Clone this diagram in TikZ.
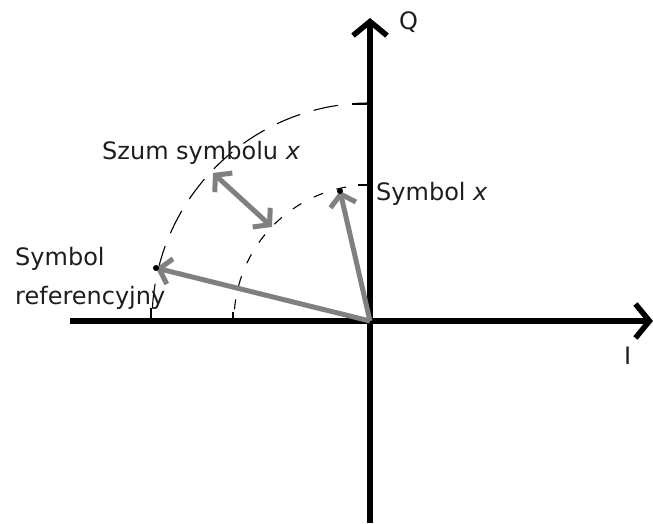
\documentclass[tikz,border=0pt]{standalone}
\usepackage{fontspec}
\setmainfont{DejaVu Sans}
\usetikzlibrary{arrows.meta}
\definecolor{txt}{HTML}{1E1E1E}
\definecolor{vec}{HTML}{808080}
\begin{document}
\begin{tikzpicture}[x=1pt,y=1pt,
  axis/.style={line width=5.5pt, -{Straight Barb[sharp,length=14pt,width=34pt]}},
  vector/.style={draw=vec, line width=5pt, -{Straight Barb[sharp,length=11pt,width=26pt]}},
  dbl/.style={draw=vec, line width=5pt, {Straight Barb[sharp,length=11pt,width=26pt]}-{Straight Barb[sharp,length=11pt,width=26pt]}},
  circ/.style={line width=1.1pt},
  tickmark/.style={line width=1.1pt},
  lbl/.style={text=txt, font=\fontsize{24}{29}\selectfont, inner sep=0pt, anchor=base west},
  symdot/.style={circle, fill=black, inner sep=0pt, minimum size=6pt}]
\useasboundingbox (0,0) rectangle (653,523);
\coordinate (O) at (370,202);
\coordinate (ybot) at (370,0);
\coordinate (ytop) at (370,505);
\coordinate (xl) at (70,202);
\coordinate (xr) at (653,202);
% dashed circles
\draw[circ, dash pattern=on 25pt off 14pt, dash phase=7pt] (370,420) arc[start angle=90, end angle=180, radius=218pt];
\draw[circ, dash pattern=on 10pt off 14pt] (370,338) arc[start angle=90, end angle=180, radius=136pt];
\draw[tickmark] (352,419) -- (370,419);
\draw[tickmark] (358,338) -- (370,338);
\draw[tickmark] (151,215) -- (151,202);
\draw[tickmark] (233,211) -- (233,202);
% axes
\draw[axis] (ybot) -- (ytop);
\draw[axis] (xl) -- (xr);
% vectors
\coordinate (refpt) at (156,255);
\coordinate (sxpt) at (340,332);
\draw[vector] (O) -- (refpt);
\draw[vector] (O) -- (sxpt);
\node[symdot] (ref) at (refpt) {};
\node[symdot] (sx) at (sxpt) {};
\coordinate (na) at (213,350);
\coordinate (nb) at (272,296);
\draw[dbl] (na) -- (nb);
% labels
\node[lbl] (szum) at (102,363) {Szum symbolu \textit{x}};
\node[lbl] (symx) at (376,323) {Symbol \textit{x}};
\node[lbl] (sref1) at (15,258) {Symbol};
\node[lbl] (sref2) at (15,219) {referencyjny};
\node[lbl] (q) at (399,493) {Q};
\node[lbl] (i) at (624,159) {I};
\end{tikzpicture}
\end{document}
